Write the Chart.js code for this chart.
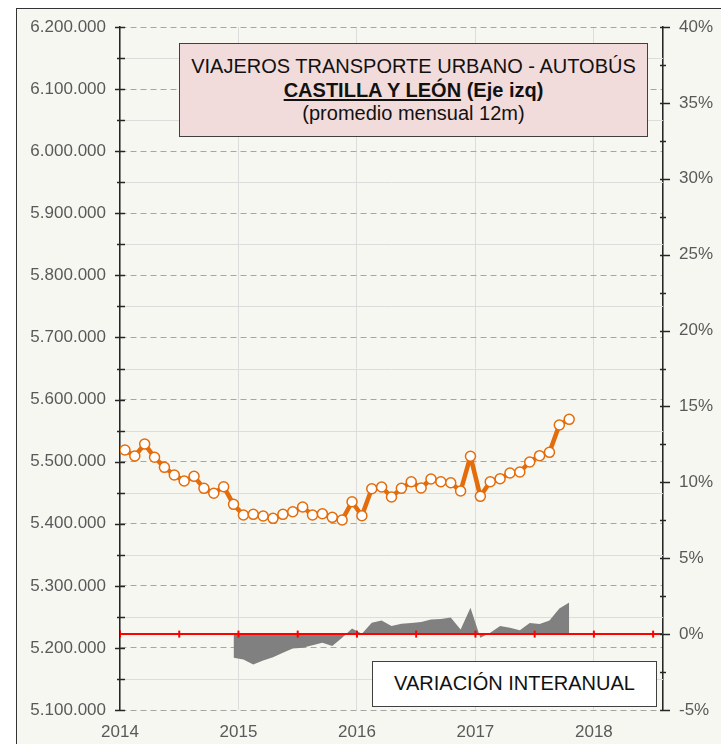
<!DOCTYPE html>
<html lang="es">
<head>
<meta charset="utf-8">
<title>Viajeros transporte urbano - autobús</title>
<script src="https://cdn.jsdelivr.net/npm/chart.js@4.4.1/dist/chart.umd.min.js"></script>
<style>
html,body{margin:0;padding:0;background:#fff;}
#marco{position:relative;width:721px;height:744px;overflow:hidden;font-family:"Liberation Sans",Arial,sans-serif;}
#fondo{position:absolute;left:16px;top:8px;width:720px;height:750px;background:#f7f7f2;border:1px solid #333;}
#grafico{position:absolute;left:0;top:0;}
.caja{position:absolute;box-sizing:border-box;border:1.5px solid #404040;text-align:center;color:#111;}
#titulo{left:179px;top:43px;width:469px;height:94px;background:#f2dcdb;font-size:20px;line-height:23.5px;padding-top:11px;}
#titulo u{text-decoration-thickness:1.5px;text-underline-offset:2px;}
#leyenda{left:372px;top:661px;width:285px;height:46px;background:#fff;font-size:20px;line-height:43px;}
</style>
</head>
<body>
<div id="marco">
  <div id="fondo"></div>
  <canvas id="grafico" width="721" height="744"></canvas>
  <div id="titulo" class="caja">VIAJEROS TRANSPORTE URBANO - AUTOBÚS<br><b><u>CASTILLA Y LEÓN</u> (Eje izq)</b><br>(promedio mensual 12m)</div>
  <div id="leyenda" class="caja">VARIACIÓN INTERANUAL</div>
</div>
<script>
/* =========================
   Datos
   ========================= */
const anios = ['2014','2015','2016','2017','2018'];

// promedio mensual 12m, ene-2014 .. oct-2017
const viajeros = [
  5518700, 5509000, 5528300, 5507000, 5490800, 5478400, 5468800, 5476300, 5457000, 5449000, 5459600, 5431200,
  5414000, 5415100, 5412400, 5408700, 5415100, 5419300, 5426900, 5414000, 5416100, 5410300, 5406000, 5435400,
  5412900, 5456400, 5459100, 5443000, 5457000, 5467600, 5457500, 5472000, 5467600, 5466000, 5452700, 5508500,
  5444100, 5467600, 5472500, 5481700, 5483300, 5499400, 5509600, 5515000, 5559000, 5568100
];

// variación interanual (%), dic-2014 .. oct-2017
const variacion = [
  -1.56,
  -1.67, -2.00, -1.74, -1.52, -1.23, -0.95, -0.90, -0.73, -0.57, -0.79, -0.24, 0.37,
   0.02,  0.75,  0.90,  0.53,  0.68,  0.73,  0.79,  0.97,  0.99,  1.10,  0.31, 1.73,
  -0.24,  0.09,  0.53,  0.42,  0.26,  0.73,  0.66,  0.90,  1.69,  2.09
];
const mesInicioVariacion = 11;          // dic-2014 (0 = ene-2014)
const marcasCero = [0,6,12,18,24,30,36,42,48,54];  // marcas semestrales del eje 0%
const mesesEje = 55;                    // ene-2014 .. ago-2018

const fmtMiles = (v)=>String(Math.round(v)).replace(/\B(?=(\d{3})+(?!\d))/g,'.');

/* =========================
   Rayas de eje y rejilla menor
   ========================= */
const ejesExcel = {
  id:'ejesExcel',
  beforeDatasetsDraw(chart){
    const {ctx, chartArea:a, scales:{y}} = chart;
    ctx.save();
    ctx.strokeStyle='#dcdcdc'; ctx.lineWidth=1;
    for(let v=y.min+50000; v<y.max; v+=100000){
      const py=Math.round(y.getPixelForValue(v))+0.5;
      ctx.beginPath(); ctx.moveTo(a.left,py); ctx.lineTo(a.right,py); ctx.stroke();
    }
    ctx.restore();
  },
  afterDatasetsDraw(chart){
    const {ctx, scales:{y,yR}} = chart;
    ctx.save();
    ctx.strokeStyle='#262626'; ctx.lineWidth=1.5;
    const raya=(x,py,l,r)=>{ ctx.beginPath(); ctx.moveTo(x-l,py); ctx.lineTo(x+r,py); ctx.stroke(); };
    for(let v=y.min; v<=y.max; v+=50000){
      raya(y.right, Math.round(y.getPixelForValue(v))+0.5, v%100000===0?5:3, 5);
    }
    for(let v=yR.min; v<=yR.max+0.01; v+=2.5){
      const mayor = Math.abs(v%5)<0.01;
      raya(yR.left, Math.round(yR.getPixelForValue(v))+0.5, 3, mayor?7:3);
    }
    ctx.restore();
  }
};

/* =========================
   Chart.js
   ========================= */
Chart.defaults.font.family = '"Liberation Sans", Arial, sans-serif';
Chart.defaults.font.size = 17;
Chart.defaults.color = '#595959';

const puntosViajeros = viajeros.map((v,i)=>({x:i+0.5, y:v}));
const puntosVariacion = variacion.map((v,i)=>({x:mesInicioVariacion+i+0.5, y:v}));

new Chart(document.getElementById('grafico'),{
  type:'line',
  data:{
    datasets:[
      { label:'Viajeros', data:puntosViajeros, yAxisID:'y',
        borderColor:'#e46c0a', borderWidth:4.5, tension:0, borderJoinStyle:'round',
        pointRadius:5, pointBorderWidth:1.5, pointBackgroundColor:'#fff', pointBorderColor:'#e46c0a' },
      { label:'marcas', data:marcasCero.map(m=>({x:m, y:0})), yAxisID:'yR', showLine:false,
        pointStyle:'line', pointRotation:90, pointRadius:3.5, pointBorderWidth:2, pointBorderColor:'#ff0000' },
      { label:'cero', data:[{x:0,y:0},{x:mesesEje,y:0}], yAxisID:'yR',
        borderColor:'#ff0000', borderWidth:2, pointRadius:0 },
      { label:'Variación interanual', data:puntosVariacion, yAxisID:'yR',
        fill:'origin', backgroundColor:'#808080', borderWidth:0, pointRadius:0, tension:0 }
    ]
  },
  options:{
    responsive:false,
    animation:false,
    layout:{padding:{top:27,left:0,right:0,bottom:0}},
    plugins:{ legend:{display:false}, tooltip:{enabled:false} },
    scales:{
      x:{ type:'linear', min:0, max:mesesEje,
          ticks:{ stepSize:12, padding:12, autoSkip:false, maxRotation:0,
                  callback:(v)=> v%12===0 ? anios[v/12] : '' },
          grid:{ color:'#dcdcdc', lineWidth:1, drawTicks:false },
          border:{ display:false },
          afterFit:(s)=>{ s.height = 34; } },
      y:{ position:'left', min:5100000, max:6200000,
          ticks:{ stepSize:100000, padding:14, callback:(v)=>fmtMiles(v) },
          grid:{ color:'#a6a6a6', lineWidth:1, drawTicks:false },
          border:{ color:'#262626', width:1.5, dash:[6,4] },
          afterFit:(s)=>{ s.width = 120; } },
      yR:{ position:'right', min:-5, max:40,
           ticks:{ stepSize:5, padding:16, callback:(v)=>v+'%' },
           grid:{ drawOnChartArea:false, drawTicks:false },
           border:{ color:'#262626', width:1.5 },
           afterFit:(s)=>{ s.width = 58; } }
    }
  },
  plugins:[ejesExcel]
});
</script>
</body>
</html>
